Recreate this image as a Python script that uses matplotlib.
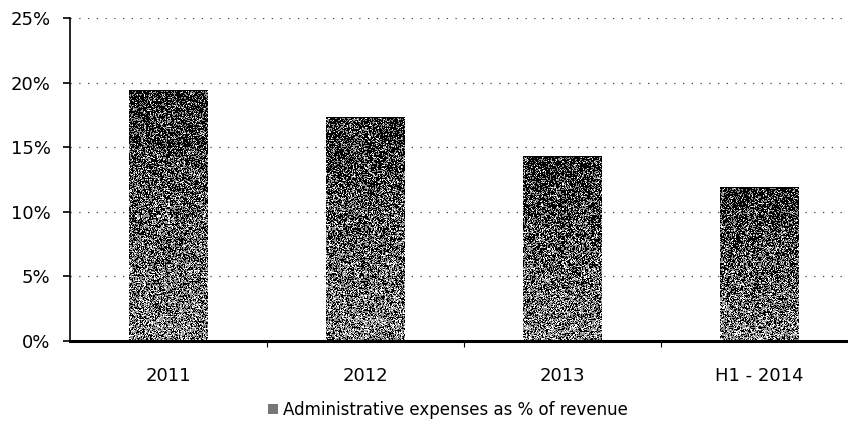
import matplotlib
matplotlib.use("Agg")
import matplotlib.pyplot as plt
import numpy as np
from matplotlib.patches import Rectangle

categories = ["2011", "2012", "2013", "H1 - 2014"]
admin_pct = [19.4, 17.3, 14.3, 11.9]
y_ticks = [0, 5, 10, 15, 20, 25]
y_labels = ["0%", "5%", "10%", "15%", "20%", "25%"]
legend_label = "Administrative expenses as % of revenue"

plt.rcParams["font.family"] = ["DejaVu Sans"]

rng = np.random.default_rng(7)


def stipple(rows, cols):
    # halftone-like fill: dense black at the top, lighter towards the base
    t = np.linspace(1.0, 0.0, rows)[:, None]
    p_black = 0.32 + 0.38 * t
    p_gray = 0.45 - 0.2 * t
    noise = rng.random((rows, cols))
    img = np.ones((rows, cols))
    img[noise < p_black + p_gray] = 0.58
    img[noise < p_black] = 0.0
    img[0, :] = 0.0
    return img


fig = plt.figure(figsize=(8.48, 4.24), dpi=100)
ax = fig.add_axes([70 / 848, 1 - 341 / 424, 778 / 848, (341 - 18) / 424])

bar_w = 0.4
x = np.arange(len(categories))
for xi, v in zip(x, admin_pct):
    rows = max(int(v * 12.9), 2)
    ax.imshow(stipple(rows, 78), cmap="gray", vmin=0, vmax=1,
              extent=(xi - bar_w / 2, xi + bar_w / 2, 0, v),
              aspect="auto", interpolation="nearest", zorder=2)

for yt in y_ticks[1:]:
    ax.axhline(yt, color="#444444", lw=0.9, ls=(0, (1, 6)), zorder=1)

ax.set_xlim(-0.5, 3.45)
ax.set_ylim(0, 25)
ax.set_yticks(y_ticks)
ax.set_yticklabels(y_labels, fontsize=13)
ax.set_xticks(x)
ax.set_xticklabels(categories, fontsize=13)
ax.tick_params(axis="x", length=0, pad=19)
ax.set_xticks([0.5, 1.5, 2.5], minor=True)
ax.tick_params(axis="x", which="minor", length=4, width=0.8, direction="out")
ax.tick_params(axis="y", length=5, width=1.2, direction="out", pad=9)

for side in ["top", "right"]:
    ax.spines[side].set_visible(False)
ax.spines["left"].set_linewidth(1.2)
ax.spines["bottom"].set_linewidth(2.2)
ax.spines["bottom"].set_zorder(3)

handle = Rectangle((0, 0), 1, 1, facecolor="#777777", edgecolor="none",
                   hatch="xxxx")
fig.legend([handle], [legend_label], loc="center", bbox_to_anchor=(0.528, 0.033),
           frameon=False, fontsize=12, handlelength=0.6, handleheight=0.6,
           handletextpad=0.3)

fig.savefig("out.png", dpi=100)
